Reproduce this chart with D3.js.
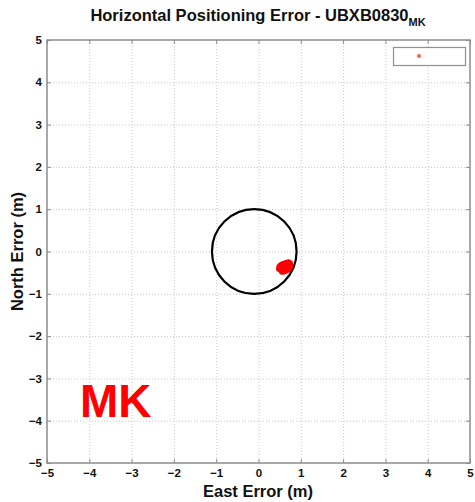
<!DOCTYPE html>
<html>
<head>
<meta charset="utf-8">
<script src="https://cdn.jsdelivr.net/npm/d3@7"></script>
<style>
  html, body { margin: 0; padding: 0; background: #fff; }
  svg { display: block; font-family: "Liberation Sans", Arial, sans-serif; }
</style>
</head>
<body>
<svg id="chart" width="475" height="502"></svg>
<script>
// Axis ticks (metres)
const xTicks = [-5, -4, -3, -2, -1, 0, 1, 2, 3, 4, 5];
const yTicks = [-5, -4, -3, -2, -1, 0, 1, 2, 3, 4, 5];

// Reference circle: 1 m radius
const circleCenterEast = [-0.1];
const circleCenterNorth = [0];
const circleRadius = [1];

// Position error samples (east, north) in metres
const eastError = [0.50, 0.53, 0.56, 0.59, 0.62, 0.65, 0.68, 0.71, 0.74, 0.52, 0.55, 0.58, 0.61, 0.64, 0.67, 0.70, 0.73,
                   0.54, 0.57, 0.60, 0.63, 0.66, 0.69, 0.72, 0.58, 0.62, 0.66, 0.70, 0.60, 0.64, 0.68, 0.56, 0.49, 0.75];
const northError = [-0.36, -0.33, -0.31, -0.30, -0.29, -0.28, -0.27, -0.26, -0.28, -0.40, -0.38, -0.36, -0.35, -0.34, -0.33, -0.32, -0.33,
                    -0.44, -0.43, -0.41, -0.40, -0.39, -0.38, -0.37, -0.47, -0.46, -0.44, -0.42, -0.35, -0.31, -0.30, -0.47, -0.41, -0.35];

const svg = d3.select("#chart");
const x = d3.scaleLinear().domain([-5, 5]).range([47, 470]);
const y = d3.scaleLinear().domain([-5, 5]).range([463, 40]);

// Dotted grid
const grid = svg.append("g").attr("stroke", "#c8c8c8").attr("stroke-width", 1).attr("stroke-dasharray", "1,2");
grid.selectAll("line.v").data(xTicks.slice(1, -1)).join("line")
  .attr("x1", d => x(d) + 0.5).attr("x2", d => x(d) + 0.5)
  .attr("y1", y(5)).attr("y2", y(-5));
grid.selectAll("line.h").data(yTicks.slice(1, -1)).join("line")
  .attr("y1", d => y(d) + 0.5).attr("y2", d => y(d) + 0.5)
  .attr("x1", x(-5)).attr("x2", x(5));

// Axes with inward ticks
const axisColor = "#8c8c8c";
const styleAxis = g => {
  g.select(".domain").remove();
  g.selectAll(".tick line").attr("stroke", axisColor);
  g.selectAll(".tick text").attr("fill", "#111").attr("font-weight", "bold").attr("font-size", 11.5);
};
svg.append("g").attr("transform", `translate(0,${y(-5)})`)
  .call(d3.axisBottom(x).tickValues(xTicks).tickSize(-4).tickPadding(6).tickFormat(d3.format("d")))
  .call(styleAxis);
svg.append("g").attr("transform", `translate(${x(-5)},0)`)
  .call(d3.axisLeft(y).tickValues(yTicks).tickSize(-4).tickPadding(5).tickFormat(d3.format("d")))
  .call(styleAxis);
svg.append("g").attr("transform", `translate(0,${y(5)})`)
  .call(d3.axisTop(x).tickValues(xTicks).tickSize(-4).tickFormat(""))
  .call(styleAxis);
svg.append("g").attr("transform", `translate(${x(5)},0)`)
  .call(d3.axisRight(y).tickValues(yTicks).tickSize(-4).tickFormat(""))
  .call(styleAxis);

// Frame
svg.append("rect")
  .attr("x", x(-5)).attr("y", y(5))
  .attr("width", x(5) - x(-5)).attr("height", y(-5) - y(5))
  .attr("fill", "none").attr("stroke", axisColor).attr("stroke-width", 1.5);

// Reference circle
svg.append("circle")
  .attr("cx", x(circleCenterEast[0])).attr("cy", y(circleCenterNorth[0]))
  .attr("r", x(circleRadius[0]) - x(0))
  .attr("fill", "none").attr("stroke", "#000").attr("stroke-width", 2.2);

// Error samples
svg.append("g").attr("fill", "#ff0000")
  .selectAll("circle").data(eastError.map((e, i) => [e, northError[i]])).join("circle")
  .attr("cx", d => x(d[0])).attr("cy", d => y(d[1])).attr("r", 3.2);

// Legend box
svg.append("rect").attr("x", 393.5).attr("y", 47.5).attr("width", 72).attr("height", 18)
  .attr("fill", "#fff").attr("stroke", "#909090").attr("stroke-width", 1.2);
svg.append("circle").attr("cx", 419).attr("cy", 56).attr("r", 2).attr("fill", "#ff3030").attr("opacity", 0.8);

// Title
const title = svg.append("text").attr("x", 258).attr("y", 21).attr("text-anchor", "middle")
  .attr("font-weight", "bold").attr("font-size", 16.5).attr("fill", "#111");
title.append("tspan").text("Horizontal Positioning Error - UBXB0830");
title.append("tspan").attr("dy", 5).attr("font-size", 11).text("MK");

// Axis labels
svg.append("text").attr("x", 258).attr("y", 497).attr("text-anchor", "middle")
  .attr("font-weight", "bold").attr("font-size", 16.5).attr("fill", "#111").text("East Error (m)");
svg.append("text").attr("transform", `translate(23,${y(0)}) rotate(-90)`).attr("text-anchor", "middle")
  .attr("font-weight", "bold").attr("font-size", 16.5).attr("fill", "#111").text("North Error (m)");

// Station tag
svg.append("text").attr("x", 80).attr("y", 417)
  .attr("font-weight", "bold").attr("font-size", 46).attr("fill", "#ff0000").text("MK");
</script>
</body>
</html>
